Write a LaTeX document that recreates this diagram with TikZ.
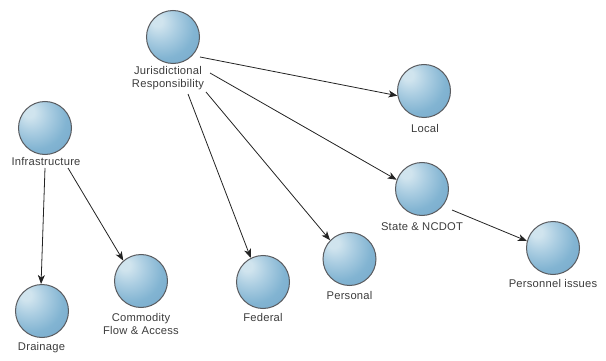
\documentclass[tikz,border=0pt]{standalone}
\usepackage{fontspec}
\newfontfamily\labfont[LetterSpace=2]{Liberation Sans}
\usetikzlibrary{arrows.meta,calc}
\definecolor{hl}{RGB}{208,228,238}
\definecolor{hlb}{RGB}{172,206,226}
\definecolor{body}{RGB}{130,180,210}
\definecolor{bodyd}{RGB}{114,164,200}
\definecolor{edgec}{RGB}{95,145,185}
\definecolor{rim}{RGB}{90,92,96}
\definecolor{txt}{RGB}{60,60,60}
\pgfdeclareradialshading{sph}{\pgfpoint{-16bp}{16bp}}{%
  color(0bp)=(hl); color(5bp)=(hl); color(16bp)=(hlb); color(30bp)=(body);
  color(50bp)=(bodyd); color(62bp)=(edgec); color(80bp)=(edgec)}
\tikzset{
  sphere/.style={circle, minimum size=53pt, inner sep=0pt, shading=sph, draw=rim, line width=1pt},
  lab/.style={font=\labfont\fontsize{11.2}{12.5}\selectfont, text=txt, align=center, inner sep=0pt},
  conn/.style={draw={rgb,255:red,35;green,35;blue,35}, line width=0.8pt, -{Stealth[length=9pt,width=7pt,inset=2.5pt]}}
}
\begin{document}
\begin{tikzpicture}[x=1pt,y=-1pt]
\useasboundingbox (0,0) rectangle (606,361);
% spheres
\node[sphere] (jur) at (173,37) {};
\node[sphere] (infra) at (45,128) {};
\node[sphere] (drain) at (42,311) {};
\node[sphere] (comm) at (141,281) {};
\node[sphere] (local) at (424,91) {};
\node[sphere] (state) at (422,189) {};
\node[sphere] (pers) at (553,248) {};
\node[sphere] (federal) at (263,282) {};
\node[sphere] (personal) at (349.5,259) {};
% labels
\node[lab] (jurL) at (168,78) {Jurisdictional\\Responsibility};
\node[lab] (infraL) at (46,162) {Infrastructure};
\node[lab] (drainL) at (41.5,348) {Drainage};
\node[lab] (commL) at (141,324) {Commodity\\Flow \& Access};
\node[lab] (localL) at (425,128) {Local};
\node[lab] (stateL) at (422,227) {State \& NCDOT};
\node[lab] (persL) at (553,283) {Personnel issues};
\node[lab] (federalL) at (263,317) {Federal};
\node[lab] (personalL) at (349.5,295) {Personal};
% connector start points
\coordinate (s1) at (200,57);
\coordinate (s2) at (210,73);
\coordinate (s3) at (206,92);
\coordinate (s4) at (188,94);
\coordinate (s5) at (45,168);
\coordinate (s6) at (68,168);
\coordinate (s7) at (452,210);
% connectors
\draw[conn] (s1) -- (local.190);
\draw[conn] (s2) -- (state.160);
\draw[conn] (s3) -- (personal.136);
\draw[conn] (s4) -- (federal.117);
\draw[conn] (s5) -- (drain.92);
\draw[conn] (s6) -- (comm.131);
\draw[conn] (s7) -- (pers.165);
\end{tikzpicture}
\end{document}
